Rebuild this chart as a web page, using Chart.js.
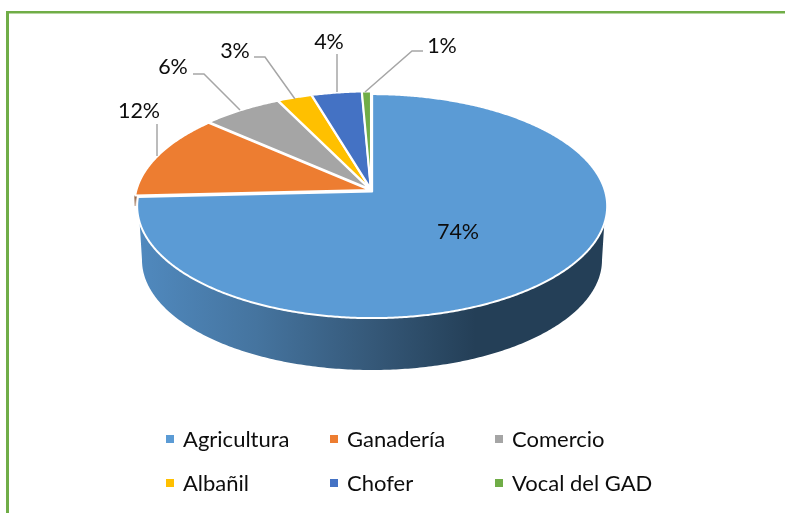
<!DOCTYPE html>
<html><head><meta charset="utf-8">
<style>html,body{margin:0;padding:0;background:#fff}canvas{display:block}</style>
<script src="https://cdn.jsdelivr.net/npm/chart.js@4"></script>
</head><body><canvas id="c" width="785" height="513"></canvas>
<script>
const categories = ['Agricultura','Ganadería','Comercio','Albañil','Chofer','Vocal del GAD'];
const values = [74.2,12.3,6.2,2.7,3.9,0.7];
const percentLabels = ['74%','12%','6%','3%','4%','1%'];
const colors = ['#5B9BD5','#ED7D31','#A5A5A5','#FFC000','#4472C4','#70AD47'];
const LABEL_FONT = '21.5px Lato, "Open Sans", sans-serif';
const LEGEND_FONT = '22px Lato, "Open Sans", sans-serif';

// pie geometry (perspective view of a disc)
const TOP = {cx:371, cy:205, rx:235, ry:112};
const BOT = {cx:372, cy:260, rx:230, ry:110};
const TILT = 0.13;
function project(e, th){
  const u=Math.sin(th), v=-Math.cos(th), k=1-TILT*v;
  return {x:e.cx+e.rx*u*Math.sqrt(1-TILT*TILT)/k, y:e.cy+e.ry*(v-TILT)/k};
}
const EXPLODE = 1.6;
const labelSpots = [
  {at:[458,232]},
  {at:[139,111], line:[[157,156],[157,124]]},
  {at:[173,67], line:[[240,110],[204,74],[193,74]]},
  {at:[235,51], line:[[295,99],[265,57],[254,57]]},
  {at:[329,42], line:[[337,92],[337,54]]},
  {at:[442,46], line:[[365,92],[412,51],[423,51]]}
];
const legendCols = [166,330,495], legendRows = [440,484];

const pie3d = {
  id:'pie3d',
  beforeDatasetsDraw(chart){
    const ctx=chart.ctx, arcs=chart.getDatasetMeta(0).data;
    ctx.save();
    ctx.fillStyle='#fff'; ctx.fillRect(0,0,785,513);
    ctx.fillStyle='#70AD47';
    ctx.fillRect(6,11,779,2.5); ctx.fillRect(6,11,3,502);

    // side wall, visible under the front of the disc
    const grad=ctx.createLinearGradient(140,0,606,0);
    grad.addColorStop(0,'#5089BE');
    grad.addColorStop(0.25,'#45749F');
    grad.addColorStop(0.5,'#355878');
    grad.addColorStop(0.72,'#243F57');
    grad.addColorStop(1,'#243F57');
    const N=240, a=Math.asin(0.15);
    ctx.beginPath();
    for(let i=0;i<=N;i++){const f=a+(Math.PI-2*a)*i/N; ctx[i?'lineTo':'moveTo'](TOP.cx+1+TOP.rx*Math.cos(f),TOP.cy+1+TOP.ry*Math.sin(f));}
    for(let i=N;i>=0;i--){const f=Math.PI*i/N; ctx.lineTo(BOT.cx+BOT.rx*Math.cos(f),BOT.cy+BOT.ry*Math.sin(f));}
    ctx.closePath(); ctx.fillStyle=grad; ctx.fill();

    // little piece of the second slice's wall
    const s1=arcs[1].startAngle+Math.PI/2;
    const pA=project(TOP,s1);
    const wallG=ctx.createLinearGradient(0,pA.y,0,pA.y+11);
    wallG.addColorStop(0,'#8A5A3A'); wallG.addColorStop(1,'#D9C8BC');
    ctx.fillStyle=wallG; ctx.fillRect(pA.x-2.4,pA.y-1,2.4,11);

    // top faces
    arcs.forEach((arc,i)=>{
      const st=arc.startAngle+Math.PI/2, en=arc.endAngle+Math.PI/2, mid=(st+en)/2;
      const dx=EXPLODE*Math.sin(mid), dy=-EXPLODE*Math.cos(mid);
      ctx.beginPath();
      ctx.moveTo(TOP.cx+dx, TOP.cy-TOP.ry*TILT+dy);
      const n=Math.max(4,Math.ceil((en-st)*120));
      for(let k=0;k<=n;k++){const p=project(TOP,st+(en-st)*k/n); ctx.lineTo(p.x+dx,p.y+dy);}
      ctx.closePath();
      ctx.fillStyle=arc.options.backgroundColor; ctx.fill();
      ctx.strokeStyle='#fff'; ctx.lineWidth=2; ctx.lineJoin='round'; ctx.stroke();
    });

    // leader lines and data labels
    ctx.strokeStyle='#A6A6A6'; ctx.lineWidth=1.5; ctx.lineJoin='miter';
    labelSpots.forEach(l=>{ if(!l.line) return;
      ctx.beginPath(); l.line.forEach((p,i)=>ctx[i?'lineTo':'moveTo'](p[0],p[1])); ctx.stroke();
    });
    ctx.font=LABEL_FONT; ctx.fillStyle='#0d0d0d'; ctx.textAlign='center'; ctx.textBaseline='middle';
    labelSpots.forEach((l,i)=>ctx.fillText(percentLabels[i],l.at[0],l.at[1]));

    // legend, three columns on two rows
    ctx.textAlign='left'; ctx.font=LEGEND_FONT;
    chart.data.labels.forEach((t,i)=>{
      const x=legendCols[i%3], y=legendRows[Math.floor(i/3)];
      ctx.fillStyle=colors[i]; ctx.fillRect(x,y-5,8,8);
      ctx.fillStyle='#0d0d0d'; ctx.fillText(t,x+17,y);
    });
    ctx.restore();
    return false;
  }
};

new Chart(document.getElementById('c'),{
  type:'pie',
  data:{labels:categories,datasets:[{data:values,backgroundColor:colors}]},
  options:{responsive:false,animation:false,
    plugins:{legend:{display:false},tooltip:{enabled:false}}},
  plugins:[pie3d]
});
</script></body></html>
